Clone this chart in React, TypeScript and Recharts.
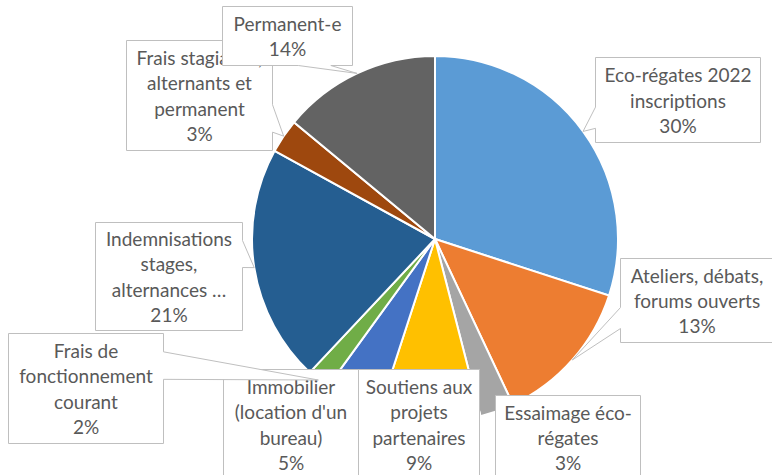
import { Cell, Pie, PieChart } from "recharts";

// categories (line breaks as in the original labels)
const categories = [
  "Eco-régates 2022\ninscriptions",
  "Ateliers, débats,\nforums ouverts",
  "Essaimage éco-\nrégates",
  "Soutiens aux\nprojets\npartenaires",
  "Immobilier\n(location d'un\nbureau)",
  "Frais de\nfonctionnement\ncourant",
  "Indemnisations\nstages,\nalternances …",
  "Frais stagiaires,\nalternants et\npermanent",
  "Permanent-e",
];

// share of the budget, in %
const shares = [30, 13, 3, 9, 5, 2, 21, 3, 14];

const colors = [
  "#5B9BD5",
  "#ED7D31",
  "#A5A5A5",
  "#FFC000",
  "#4472C4",
  "#70AD47",
  "#255E91",
  "#9E480E",
  "#636363",
];

// callout boxes: x, y, width, height
const boxes = [
  [595, 57, 165, 85],
  [620, 258, 153, 84],
  [495, 395, 145, 84],
  [358, 369, 121, 110],
  [223, 369, 135, 110],
  [8, 333, 155, 110],
  [95, 222, 147, 108],
  [126, 40, 146, 110],
  [222, 6, 130, 59],
];

const data = categories.map((name, i) => ({ name, value: shares[i] }));

const FONT = "Lato, 'Open Sans', sans-serif";
const FONT_SIZE = 19;
const LINE_H = 25.3;

function calloutPath(x: number, y: number, w: number, h: number, tx: number, ty: number) {
  const r = x + w;
  const b = y + h;
  const inside = tx >= x && tx <= r && ty >= y && ty <= b;
  if (inside) return `M${x},${y}L${r},${y}L${r},${b}L${x},${b}Z`;
  const dxPos = tx - (x + w / 2);
  const dyPos = ty - (y + h / 2);
  const x1 = x + (w * (dxPos > 0 ? 7 : 2)) / 12;
  const x2 = x + (w * (dxPos > 0 ? 10 : 5)) / 12;
  const y1 = y + (h * (dyPos > 0 ? 7 : 2)) / 12;
  const y2 = y + (h * (dyPos > 0 ? 10 : 5)) / 12;
  if (Math.abs(dxPos * h) > Math.abs(dyPos * w)) {
    if (dxPos < 0) return `M${x},${y}L${r},${y}L${r},${b}L${x},${b}L${x},${y2}L${tx},${ty}L${x},${y1}Z`;
    return `M${x},${y}L${r},${y}L${r},${y1}L${tx},${ty}L${r},${y2}L${r},${b}L${x},${b}Z`;
  }
  if (dyPos < 0) return `M${x},${y}L${x1},${y}L${tx},${ty}L${x2},${y}L${r},${y}L${r},${b}L${x},${b}Z`;
  return `M${x},${y}L${r},${y}L${r},${b}L${x2},${b}L${tx},${ty}L${x1},${b}L${x},${b}Z`;
}

const renderCallout = (props: any) => {
  const { cx, cy, midAngle, outerRadius, index, percent } = props;
  const rad = Math.PI / 180;
  const tx = cx + outerRadius * Math.cos(-midAngle * rad);
  const ty = cy + outerRadius * Math.sin(-midAngle * rad);
  const [bx, by, bw, bh] = boxes[index];
  const x = bx + 0.5;
  const y = by + 0.5;
  const lines = [...categories[index].split("\n"), `${Math.round(percent * 100)}%`];
  const top = y + bh / 2 - ((lines.length - 1) * LINE_H) / 2;
  return (
    <g key={`callout-${index}`}>
      <path d={calloutPath(x, y, bw, bh, tx, ty)} fill="#fff" stroke="#BFBFBF" strokeWidth={1} />
      <text
        textAnchor="middle"
        fontFamily={FONT}
        fontSize={FONT_SIZE}
        fill="#595959"
      >
        {lines.map((line, i) => (
          <tspan key={i} x={x + bw / 2} y={top + i * LINE_H + 7.5}>
            {line}
          </tspan>
        ))}
      </text>
    </g>
  );
};

export default function App() {
  return (
    <div style={{ width: 772, height: 475, background: "#fff" }}>
      <style>{`body{margin:0}`}</style>
      <PieChart width={772} height={475} margin={{ top: 0, right: 0, bottom: 0, left: 0 }}>
        <Pie
          data={data}
          dataKey="value"
          nameKey="name"
          cx={435}
          cy={239}
          outerRadius={183}
          startAngle={90}
          endAngle={-270}
          stroke="#fff"
          strokeWidth={2}
          label={renderCallout}
          labelLine={false}
          isAnimationActive={false}
        >
          {data.map((d, i) => (
            <Cell key={d.name} fill={colors[i]} />
          ))}
        </Pie>
      </PieChart>
    </div>
  );
}
